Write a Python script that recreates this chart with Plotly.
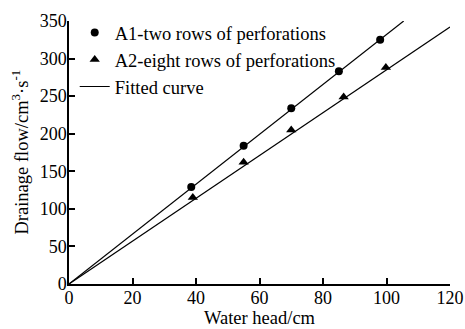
import plotly.graph_objects as go

# Data
a1_head = [38.5, 55, 70, 85, 98]
a1_flow = [129, 184, 234, 283, 325]
a2_head = [39, 55, 70, 86.5, 99.8]
a2_flow = [115, 162, 205, 249, 288]
a1_slope = 3.32
a2_slope = 2.85
x_max = 120
y_max = 350

font_family = "Liberation Serif"

def fit_line(k):
    xe = min(x_max, y_max / k)
    return [0, xe], [0, k * xe]

fig = go.Figure()
fig.add_trace(go.Scatter(x=a1_head, y=a1_flow, mode="markers", name="A1-two rows of perforations",
                         marker=dict(symbol="circle", size=8, color="black")))
fig.add_trace(go.Scatter(x=a2_head, y=a2_flow, mode="markers", name="A2-eight rows of perforations",
                         marker=dict(symbol="triangle-up", size=9, color="black")))
fx, fy = fit_line(a1_slope)
fig.add_trace(go.Scatter(x=fx, y=fy, mode="lines", name="Fitted curve",
                         line=dict(color="black", width=1.2)))
fx, fy = fit_line(a2_slope)
fig.add_trace(go.Scatter(x=fx, y=fy, mode="lines", name="Fitted curve", showlegend=False,
                         line=dict(color="black", width=1.2)))

axis_common = dict(showline=True, linecolor="black", linewidth=1.5, ticks="inside", ticklen=6,
                   tickwidth=1.5, tickcolor="black", showgrid=False, zeroline=False,
                   automargin=False, ticklabelstandoff=-3,
                   tickfont=dict(family=font_family, size=18, color="black"))

fig.update_layout(
    width=465, height=329,
    margin=dict(l=69, r=15, t=21, b=45),
    paper_bgcolor="white", plot_bgcolor="white",
    font=dict(family=font_family, size=18.5, color="black"),
    showlegend=True,
    legend=dict(x=0.015, y=1.027, xanchor="left", yanchor="top", bgcolor="rgba(0,0,0,0)",
                font=dict(family=font_family, size=18.5, color="black"),
                tracegroupgap=0, itemwidth=30),
    xaxis=dict(range=[0, x_max], tickvals=[0, 20, 40, 60, 80, 100, 120],
               title=dict(text="Water head/cm", standoff=4,
                          font=dict(family=font_family, size=18.5)), **axis_common),
    yaxis=dict(range=[0, y_max], tickvals=[0, 50, 100, 150, 200, 250, 300, 350],
               **axis_common),
    annotations=[dict(text="Drainage flow/cm<sup>3</sup>·s<sup>-1</sup>", textangle=-90,
                      xref="paper", yref="paper", x=-0.1286, y=0.5,
                      xanchor="center", yanchor="middle", showarrow=False,
                      font=dict(family=font_family, size=18.5, color="black"))],
)

fig.write_html("out.html")
